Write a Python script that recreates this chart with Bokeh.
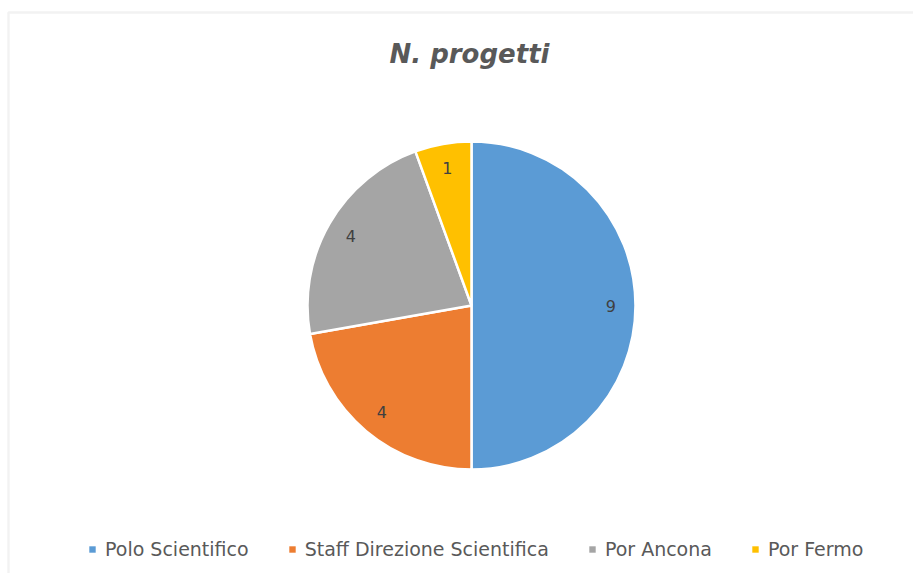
import math
from bokeh.plotting import figure
from bokeh.models import Range1d, Legend, LegendItem, Label, ColumnDataSource, BoxAnnotation
from bokeh.core.properties import value
from bokeh.embed import file_html
from bokeh.resources import INLINE

categories = ["Polo Scientifico", "Staff Direzione Scientifica", "Por Ancona", "Por Fermo"]
values = [9, 4, 4, 1]
colors = ["#5B9BD5", "#ED7D31", "#A5A5A5", "#FFC000"]
title_text = "N. progetti"

W, H = 913, 573
cx, cy, r = 471, 268, 164
FONT = "DejaVu Sans"

total = sum(values)
starts, ends, lx, ly, labels = [], [], [], [], []
cum = 0
for v in values:
    a0 = math.pi / 2 - 2 * math.pi * cum / total
    a1 = math.pi / 2 - 2 * math.pi * (cum + v) / total
    starts.append(a1)
    ends.append(a0)
    mid = (a0 + a1) / 2
    lx.append(cx + 0.85 * r * math.cos(mid))
    ly.append(cy + 0.85 * r * math.sin(mid))
    labels.append(str(v))
    cum += v

p = figure(width=W, height=H, output_backend="svg", toolbar_location=None,
           x_range=Range1d(0, W), y_range=Range1d(0, H), min_border=0)
p.axis.visible = False
p.grid.visible = False
p.outline_line_color = None
p.background_fill_color = "white"
p.border_fill_color = "white"

# chart-area frame (only left and top edges fall inside the window)
p.add_layout(BoxAnnotation(left=8, right=W + 60, top=H - 12, bottom=-60,
                           fill_alpha=0, line_color="#d4d4d4", line_width=2.5))

items = []
for i, cat in enumerate(categories):
    # zero-size square swatch renderer used only for the legend entry
    sw = p.quad(left=[cx], right=[cx], top=[cy], bottom=[cy],
                fill_color=colors[i], line_color=None)
    items.append(LegendItem(label=cat, renderers=[sw]))

for i, cat in enumerate(categories):
    src = ColumnDataSource(dict(x=[cx], y=[cy], s=[starts[i]], e=[ends[i]]))
    p.wedge(x="x", y="y", radius=r, start_angle="s", end_angle="e",
            direction="anticlock", fill_color=colors[i], line_color="white",
            line_width=2.5, source=src)

lsrc = ColumnDataSource(dict(x=lx, y=ly, t=labels))
p.text(x="x", y="y", text="t", source=lsrc, text_align="center", text_baseline="middle",
       text_font=value(FONT), text_font_size="16px", text_color="#404040")

p.add_layout(Label(x=469, y=H - 53, text=title_text,
                   text_align="center", text_baseline="alphabetic", text_font=FONT,
                   text_font_size="26px", text_font_style="bold italic", text_color="#595959"))

legend = Legend(items=items, orientation="horizontal", location=(88, 13),
                glyph_width=8, glyph_height=8, label_standoff=9, spacing=39,
                padding=0, margin=0, label_text_font=FONT, label_text_font_size="19px",
                label_text_color="#595959", border_line_color=None,
                background_fill_alpha=0, label_height=20)
p.add_layout(legend)

open("out.html", "w").write(file_html(p, INLINE))
